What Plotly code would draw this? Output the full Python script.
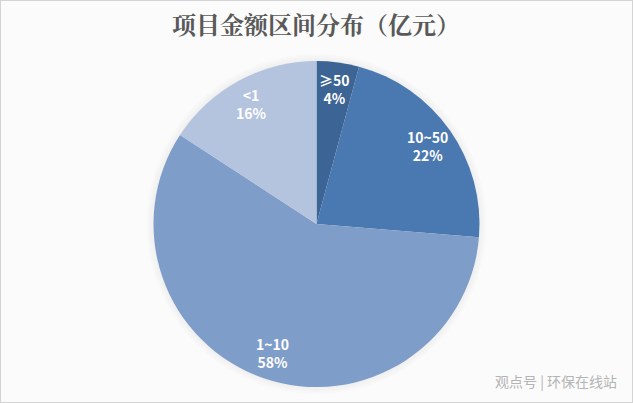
import numpy as np
import plotly.graph_objects as go

labels = ["≥50", "10~50", "1~10", "<1"]
values = [4.2, 22.1, 57.9, 15.8]
colors = ["#3c6494", "#4a78b0", "#7f9dc9", "#b4c3de"]

W, H = 633, 403
cx, cy, r = 316.5, 224, 163

# label spots follow the slice mid angles, pushed out towards the rim
mids = (np.cumsum(values) - np.array(values) / 2) / sum(values) * 2 * np.pi
annotations = []
for label, value, mid in zip(labels, values, mids):
    rr = 0.835 * r
    annotations.append(dict(
        text=f"{label}<br>{round(value)}%",
        x=(cx + rr * np.sin(mid)) / W,
        y=1 - (cy - rr * np.cos(mid)) / H,
        xref="paper", yref="paper",
        xanchor="center", yanchor="middle",
        showarrow=False,
        align="center",
        font=dict(family="Noto Sans CJK SC", size=14, color="white", weight=700),
    ))

annotations.append(dict(
    text="观点号 | 环保在线站",
    x=619 / W, y=1 - 381 / H,
    xref="paper", yref="paper",
    xanchor="right", yanchor="middle",
    showarrow=False,
    font=dict(family="Noto Sans CJK SC", size=14, color="#b4b4b4"),
))

# soft shadow round the pie
shapes = []
for grow in [7, 5, 3, 1]:
    shapes.append(dict(
        type="circle", xref="paper", yref="paper", layer="below",
        x0=(cx - r - grow) / W, x1=(cx + r + grow) / W,
        y0=1 - (cy + r + grow) / H, y1=1 - (cy - r - grow) / H,
        fillcolor="rgba(120,120,120,0.025)", line=dict(width=0),
    ))
shapes.append(dict(
    type="rect", xref="paper", yref="paper", layer="below",
    x0=0, x1=1, y0=0, y1=1,
    line=dict(color="#d4d4d4", width=2),
))

fig = go.Figure()
fig.add_trace(go.Pie(
    labels=labels,
    values=values,
    sort=False,
    direction="clockwise",
    rotation=0,
    marker=dict(colors=colors, line=dict(width=0)),
    textinfo="none",
    hoverinfo="skip",
    showlegend=False,
    domain=dict(x=[(cx - r) / W, (cx + r) / W], y=[1 - (cy + r) / H, 1 - (cy - r) / H]),
))

fig.update_layout(
    width=W,
    height=H,
    margin=dict(l=0, r=0, t=0, b=0),
    paper_bgcolor="#fbfbfb",
    title=dict(
        text="<b>项目金额区间分布（亿元）</b>",
        x=316 / W,
        xanchor="center",
        y=1 - 26 / H,
        yanchor="middle",
        font=dict(family="Noto Serif CJK SC, Noto Sans CJK SC", size=24, color="#595959"),
    ),
    annotations=annotations,
    shapes=shapes,
)

fig.write_html("out.html", config=dict(displayModeBar=False), post_script="document.body.style.margin='0';")
